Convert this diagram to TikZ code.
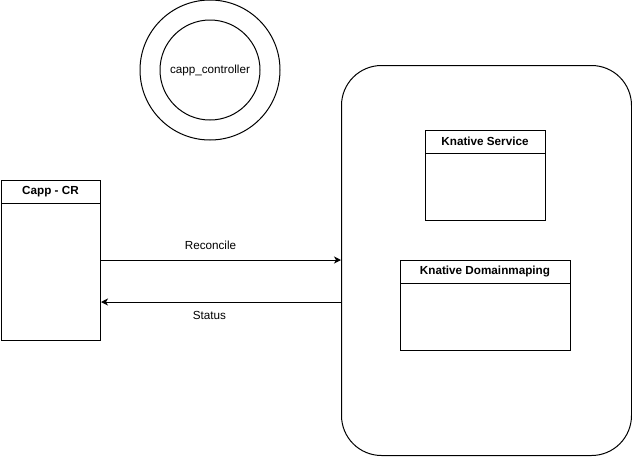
\documentclass[tikz,border=0pt]{standalone}
\usepackage{fontspec}
\setmainfont{Liberation Sans}
\usetikzlibrary{arrows.meta,calc}
\begin{document}
\begin{tikzpicture}[x=1pt,y=-1pt,line width=1pt,
  lbl/.style={font=\fontsize{11.7}{14}\selectfont,inner sep=0pt},
  hdr/.style={font=\fontsize{11.7}{14}\selectfont\bfseries,inner sep=0pt},
  box/.style={draw,rectangle,inner sep=0pt,anchor=north west},
  arr/.style={-{Stealth[length=7pt,width=7pt,inset=2pt]}}]
\useasboundingbox (0,0) rectangle (632,456);
\fill[white] (0,0) rectangle (632,456);
% controller
\node[draw,circle,minimum size=140pt,inner sep=0pt] (outer) at (210,70) {};
\node[draw,circle,minimum size=100pt,inner sep=0pt,lbl] (inner) at (210,70) {capp\_controller};
% Capp - CR
\node[box,minimum width=99pt,minimum height=160pt] (cr) at (1,180) {};
\node[hdr] (crh) at (50.5,191.5) {Capp - CR};
\draw (cr.north west |- 0,203) -- (cr.north east |- 0,203);
% outer rounded container
\node[box,rounded corners=40pt,minimum width=290pt,minimum height=390pt] (ctr) at (341,65) {};
% Knative Service
\node[box,minimum width=120pt,minimum height=90pt] (ks) at (425,130) {};
\node[hdr] (ksh) at (485,141.5) {Knative Service};
\draw (ks.north west |- 0,153) -- (ks.north east |- 0,153);
% Knative Domainmaping
\node[box,minimum width=170pt,minimum height=90pt] (kd) at (400,260) {};
\node[hdr] (kdh) at (485,271.5) {Knative Domainmaping};
\draw (kd.north west |- 0,283) -- (kd.north east |- 0,283);
% arrows
\draw[arr] (cr.east |- 0,260) -- (ctr.west |- 0,260);
\draw[arr] (ctr.west |- 0,302) -- (cr.east |- 0,302);
\node[lbl] (rec) at (210.5,245) {Reconcile};
\node[lbl] (sta) at (209.5,315) {Status};
\end{tikzpicture}
\end{document}
